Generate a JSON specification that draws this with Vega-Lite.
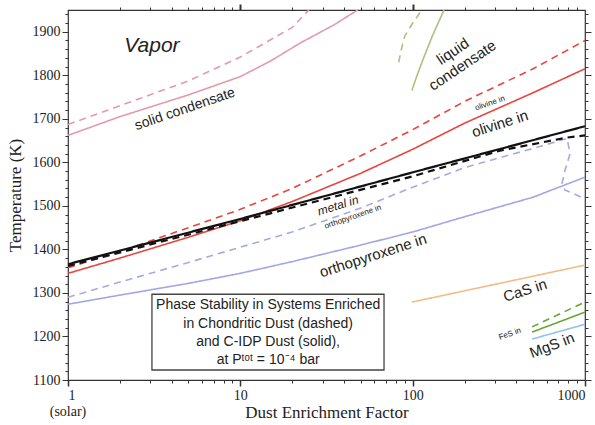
{
  "$schema": "https://vega.github.io/schema/vega-lite/v6.json",
  "width": 517,
  "height": 370,
  "autosize": {"type": "none"},
  "padding": {"left": 68, "top": 10, "right": 10, "bottom": 45},
  "config": {
    "view": {"stroke": "#333", "strokeWidth": 1.2},
    "axis": {"grid": false, "domain": false, "labelFont": "Liberation Serif", "labelFontSize": 14, "labelColor": "#222", "titleFont": "Liberation Serif", "titleFontWeight": "normal", "titleColor": "#222", "tickColor": "#333"},
    "text": {"font": "Liberation Sans", "color": "#222"}
  },
  "datasets": {
    "lines": [
      {"s": "pink_s", "d": "solid", "i": 1, "x": 1, "T": 1662},
      {"s": "pink_s", "d": "solid", "i": 2, "x": 2, "T": 1705},
      {"s": "pink_s", "d": "solid", "i": 3, "x": 5, "T": 1755},
      {"s": "pink_s", "d": "solid", "i": 4, "x": 10, "T": 1797},
      {"s": "pink_s", "d": "solid", "i": 5, "x": 15, "T": 1833},
      {"s": "pink_s", "d": "solid", "i": 6, "x": 22, "T": 1873},
      {"s": "pink_s", "d": "solid", "i": 7, "x": 35, "T": 1916},
      {"s": "pink_s", "d": "solid", "i": 8, "x": 48, "T": 1950},
      {"s": "pink_d", "d": "dashed", "i": 1, "x": 1, "T": 1687},
      {"s": "pink_d", "d": "dashed", "i": 2, "x": 2, "T": 1730},
      {"s": "pink_d", "d": "dashed", "i": 3, "x": 5, "T": 1787},
      {"s": "pink_d", "d": "dashed", "i": 4, "x": 10, "T": 1842},
      {"s": "pink_d", "d": "dashed", "i": 5, "x": 20, "T": 1910},
      {"s": "pink_d", "d": "dashed", "i": 6, "x": 25, "T": 1950},
      {"s": "green_s", "d": "solid", "i": 1, "x": 99, "T": 1765},
      {"s": "green_s", "d": "solid", "i": 2, "x": 105, "T": 1795},
      {"s": "green_s", "d": "solid", "i": 3, "x": 116, "T": 1841},
      {"s": "green_s", "d": "solid", "i": 4, "x": 130, "T": 1890},
      {"s": "green_s", "d": "solid", "i": 5, "x": 152, "T": 1950},
      {"s": "green_d", "d": "dashed", "i": 1, "x": 83, "T": 1830},
      {"s": "green_d", "d": "dashed", "i": 2, "x": 86, "T": 1860},
      {"s": "green_d", "d": "dashed", "i": 3, "x": 90, "T": 1890},
      {"s": "green_d", "d": "dashed", "i": 4, "x": 100, "T": 1920},
      {"s": "green_d", "d": "dashed", "i": 5, "x": 113, "T": 1950},
      {"s": "red_d", "d": "dashed", "i": 1, "x": 1, "T": 1358},
      {"s": "red_d", "d": "dashed", "i": 2, "x": 2, "T": 1395},
      {"s": "red_d", "d": "dashed", "i": 3, "x": 5, "T": 1450},
      {"s": "red_d", "d": "dashed", "i": 4, "x": 10, "T": 1492},
      {"s": "red_d", "d": "dashed", "i": 5, "x": 20, "T": 1540},
      {"s": "red_d", "d": "dashed", "i": 6, "x": 50, "T": 1615},
      {"s": "red_d", "d": "dashed", "i": 7, "x": 100, "T": 1675},
      {"s": "red_d", "d": "dashed", "i": 8, "x": 200, "T": 1740},
      {"s": "red_d", "d": "dashed", "i": 9, "x": 500, "T": 1815},
      {"s": "red_d", "d": "dashed", "i": 10, "x": 1000, "T": 1880},
      {"s": "red_s", "d": "solid", "i": 1, "x": 1, "T": 1345},
      {"s": "red_s", "d": "solid", "i": 2, "x": 2, "T": 1380},
      {"s": "red_s", "d": "solid", "i": 3, "x": 5, "T": 1428},
      {"s": "red_s", "d": "solid", "i": 4, "x": 10, "T": 1466},
      {"s": "red_s", "d": "solid", "i": 5, "x": 20, "T": 1510},
      {"s": "red_s", "d": "solid", "i": 6, "x": 50, "T": 1575},
      {"s": "red_s", "d": "solid", "i": 7, "x": 100, "T": 1630},
      {"s": "red_s", "d": "solid", "i": 8, "x": 200, "T": 1690},
      {"s": "red_s", "d": "solid", "i": 9, "x": 500, "T": 1760},
      {"s": "red_s", "d": "solid", "i": 10, "x": 1000, "T": 1815},
      {"s": "black_s", "d": "solid", "i": 1, "x": 1, "T": 1366},
      {"s": "black_s", "d": "solid", "i": 2, "x": 10, "T": 1470},
      {"s": "black_s", "d": "solid", "i": 3, "x": 100, "T": 1577},
      {"s": "black_s", "d": "solid", "i": 4, "x": 1000, "T": 1683},
      {"s": "black_d", "d": "dashed", "i": 1, "x": 1, "T": 1362},
      {"s": "black_d", "d": "dashed", "i": 2, "x": 10, "T": 1465},
      {"s": "black_d", "d": "dashed", "i": 3, "x": 100, "T": 1568},
      {"s": "black_d", "d": "dashed", "i": 4, "x": 321, "T": 1627},
      {"s": "black_d", "d": "dashed", "i": 5, "x": 787, "T": 1657},
      {"s": "black_d", "d": "dashed", "i": 6, "x": 1000, "T": 1662},
      {"s": "blue_d", "d": "dashed", "i": 1, "x": 1, "T": 1290},
      {"s": "blue_d", "d": "dashed", "i": 2, "x": 2, "T": 1325},
      {"s": "blue_d", "d": "dashed", "i": 3, "x": 5, "T": 1370},
      {"s": "blue_d", "d": "dashed", "i": 4, "x": 10, "T": 1405},
      {"s": "blue_d", "d": "dashed", "i": 5, "x": 20, "T": 1440},
      {"s": "blue_d", "d": "dashed", "i": 6, "x": 50, "T": 1495},
      {"s": "blue_d", "d": "dashed", "i": 7, "x": 100, "T": 1543},
      {"s": "blue_d", "d": "dashed", "i": 8, "x": 200, "T": 1588},
      {"s": "blue_d", "d": "dashed", "i": 9, "x": 500, "T": 1632},
      {"s": "blue_d", "d": "dashed", "i": 10, "x": 787, "T": 1655},
      {"s": "blue_d", "d": "dashed", "i": 11, "x": 819, "T": 1620},
      {"s": "blue_d", "d": "dashed", "i": 12, "x": 766, "T": 1582},
      {"s": "blue_d", "d": "dashed", "i": 13, "x": 736, "T": 1552},
      {"s": "blue_d", "d": "dashed", "i": 14, "x": 766, "T": 1536},
      {"s": "blue_d", "d": "dashed", "i": 15, "x": 841, "T": 1530},
      {"s": "blue_d", "d": "dashed", "i": 16, "x": 975, "T": 1518},
      {"s": "blue_s", "d": "solid", "i": 1, "x": 1, "T": 1274},
      {"s": "blue_s", "d": "solid", "i": 2, "x": 2, "T": 1295},
      {"s": "blue_s", "d": "solid", "i": 3, "x": 5, "T": 1322},
      {"s": "blue_s", "d": "solid", "i": 4, "x": 10, "T": 1345},
      {"s": "blue_s", "d": "solid", "i": 5, "x": 20, "T": 1372},
      {"s": "blue_s", "d": "solid", "i": 6, "x": 50, "T": 1410},
      {"s": "blue_s", "d": "solid", "i": 7, "x": 100, "T": 1440},
      {"s": "blue_s", "d": "solid", "i": 8, "x": 200, "T": 1475},
      {"s": "blue_s", "d": "solid", "i": 9, "x": 500, "T": 1520},
      {"s": "blue_s", "d": "solid", "i": 10, "x": 1000, "T": 1566},
      {"s": "cas_s", "d": "solid", "i": 1, "x": 99, "T": 1279},
      {"s": "cas_s", "d": "solid", "i": 2, "x": 1000, "T": 1364},
      {"s": "fes_s", "d": "solid", "i": 1, "x": 493, "T": 1210},
      {"s": "fes_s", "d": "solid", "i": 2, "x": 1000, "T": 1256},
      {"s": "fes_d", "d": "dashed", "i": 1, "x": 493, "T": 1222},
      {"s": "fes_d", "d": "dashed", "i": 2, "x": 1000, "T": 1279},
      {"s": "mgs_s", "d": "solid", "i": 1, "x": 493, "T": 1194},
      {"s": "mgs_s", "d": "solid", "i": 2, "x": 1000, "T": 1228}
    ],
    "box": [{"x": 3.07, "x2": 68.2, "T": 1297, "T2": 1123}],
    "boxtext": [
      {"x": 14.5, "T": 1272, "label": "Phase Stability in Systems Enriched"},
      {"x": 14.5, "T": 1229, "label": "in Chondritic Dust (dashed)"},
      {"x": 14.5, "T": 1188, "label": "and C-IDP Dust (solid),"},
      {"x": 14.5, "T": 1147, "label": "at Pᵗᵒᵗ = 10⁻⁴ bar"}
    ]
  },
  "layer": [
    {
      "data": {"name": "lines"},
      "transform": [{"filter": "datum.s != 'black_s' && datum.s != 'black_d'"}],
      "mark": {"type": "line", "strokeWidth": 1.6, "clip": true},
      "encoding": {
        "x": {"field": "x", "type": "quantitative", "scale": {"type": "log", "domain": [1, 1000]},
          "axis": {"orient": "bottom", "values": [1, 10, 100, 1000], "format": "d", "title": "Dust Enrichment Factor", "titleFontSize": 17, "tickSize": 6, "tickWidth": 1.5, "labelPadding": 2, "titlePadding": 2}},
        "y": {"field": "T", "type": "quantitative", "scale": {"domain": [1100, 1950], "zero": false, "nice": false},
          "axis": {"orient": "left", "values": [1100, 1200, 1300, 1400, 1500, 1600, 1700, 1800, 1900], "format": "d", "title": "Temperature (K)", "titleFontSize": 17, "tickSize": 6, "labelPadding": 2, "titlePadding": 8}},
        "color": {"field": "s", "type": "nominal", "legend": null,
          "scale": {"domain": ["pink_s", "pink_d", "green_s", "green_d", "red_d", "red_s", "blue_d", "blue_s", "cas_s", "fes_s", "fes_d", "mgs_s"],
            "range": ["#e49aae", "#e49aae", "#a9c47c", "#a9c47c", "#e8453e", "#e8453e", "#a7aadc", "#a2a6e2", "#f2bb88", "#6aa536", "#6aa536", "#8cc4ee"]}},
        "strokeDash": {"field": "d", "type": "nominal", "legend": null, "scale": {"domain": ["solid", "dashed"], "range": [[1, 0], [7, 5]]}},
        "order": {"field": "i", "type": "quantitative"}
      }
    },
    {
      "data": {"name": "lines"},
      "transform": [{"filter": "datum.s == 'black_s' || datum.s == 'black_d'"}],
      "mark": {"type": "line", "strokeWidth": 2.2, "color": "#111", "clip": true},
      "encoding": {
        "x": {"field": "x", "type": "quantitative", "scale": {"type": "log", "domain": [1, 1000]}, "axis": null},
        "y": {"field": "T", "type": "quantitative", "scale": {"domain": [1100, 1950], "zero": false, "nice": false}, "axis": null},
        "detail": {"field": "s", "type": "nominal"},
        "strokeDash": {"field": "d", "type": "nominal", "legend": null, "scale": {"domain": ["solid", "dashed"], "range": [[1, 0], [7, 4]]}},
        "order": {"field": "i", "type": "quantitative"}
      }
    },
    {
      "data": {"name": "box"},
      "mark": {"type": "rect", "fill": "white", "stroke": "#444", "strokeWidth": 1.3},
      "encoding": {
        "x": {"field": "x", "type": "quantitative", "scale": {"type": "log", "domain": [1, 1000]},
          "axis": {"orient": "bottom", "values": [2, 3, 4, 5, 6, 7, 8, 9, 20, 30, 40, 50, 60, 70, 80, 90, 200, 300, 400, 500, 600, 700, 800, 900], "labels": false, "title": null, "tickSize": 3}},
        "x2": {"field": "x2"},
        "y": {"field": "T", "type": "quantitative", "scale": {"domain": [1100, 1950], "zero": false, "nice": false},
          "axis": {"orient": "left", "values": [1120, 1140, 1160, 1180, 1220, 1240, 1260, 1280, 1320, 1340, 1360, 1380, 1420, 1440, 1460, 1480, 1520, 1540, 1560, 1580, 1620, 1640, 1660, 1680, 1720, 1740, 1760, 1780, 1820, 1840, 1860, 1880, 1920, 1940], "labels": false, "title": null, "tickSize": 3}},
        "y2": {"field": "T2"}
      }
    },
    {
      "data": {"name": "boxtext"},
      "mark": {"type": "text", "fontSize": 14, "font": "Liberation Sans"},
      "encoding": {
        "x": {"field": "x", "type": "quantitative", "scale": {"type": "log", "domain": [1, 1000]}, "axis": null},
        "y": {"field": "T", "type": "quantitative", "scale": {"domain": [1100, 1950], "zero": false, "nice": false}, "axis": null},
        "text": {"field": "label"}
      }
    },
    {
      "data": {"values": [{"x": 3.07, "T": 1868, "label": "Vapor"}]},
      "mark": {"type": "text", "fontSize": 21, "fontStyle": "italic"},
      "encoding": {
        "x": {"field": "x", "type": "quantitative", "scale": {"type": "log", "domain": [1, 1000]},
          "axis": {"orient": "top", "values": [10, 100], "labels": false, "title": null, "tickSize": 6, "tickWidth": 2}},
        "y": {"field": "T", "type": "quantitative", "scale": {"domain": [1100, 1950], "zero": false, "nice": false},
          "axis": {"orient": "right", "values": [1100, 1200, 1300, 1400, 1500, 1600, 1700, 1800, 1900], "labels": false, "title": null, "tickSize": 6}},
        "text": {"field": "label"}
      }
    },
    {
      "data": {"values": [{"x": 4.77, "T": 1722, "label": "solid condensate"}]},
      "mark": {"type": "text", "fontSize": 14, "angle": 341},
      "encoding": {
        "x": {"field": "x", "type": "quantitative", "scale": {"type": "log", "domain": [1, 1000]},
          "axis": {"orient": "top", "values": [2, 3, 4, 5, 6, 7, 8, 9, 20, 30, 40, 50, 60, 70, 80, 90, 200, 300, 400, 500, 600, 700, 800, 900], "labels": false, "title": null, "tickSize": 3}},
        "y": {"field": "T", "type": "quantitative", "scale": {"domain": [1100, 1950], "zero": false, "nice": false},
          "axis": {"orient": "right", "values": [1120, 1140, 1160, 1180, 1220, 1240, 1260, 1280, 1320, 1340, 1360, 1380, 1420, 1440, 1460, 1480, 1520, 1540, 1560, 1580, 1620, 1640, 1660, 1680, 1720, 1740, 1760, 1780, 1820, 1840, 1860, 1880, 1920, 1940], "labels": false, "title": null, "tickSize": 3}},
        "text": {"field": "label"}
      }
    },
    {
      "data": {"values": [{"x": 171, "T": 1855, "label": "liquid\ncondensate"}]},
      "mark": {"type": "text", "fontSize": 15, "angle": 326, "lineBreak": "\n", "lineHeight": 17},
      "encoding": {
        "x": {"field": "x", "type": "quantitative", "scale": {"type": "log", "domain": [1, 1000]}, "axis": null},
        "y": {"field": "T", "type": "quantitative", "scale": {"domain": [1100, 1950], "zero": false, "nice": false}, "axis": null},
        "text": {"field": "label"}
      }
    },
    {
      "data": {"values": [{"x": 321, "T": 1689, "label": "olivine in"}, {"x": 58.9, "T": 1386, "label": "orthopyroxene in"}, {"x": 449, "T": 1306, "label": "CaS in"}]},
      "mark": {"type": "text", "fontSize": 15, "angle": 342},
      "encoding": {
        "x": {"field": "x", "type": "quantitative", "scale": {"type": "log", "domain": [1, 1000]}, "axis": null},
        "y": {"field": "T", "type": "quantitative", "scale": {"domain": [1100, 1950], "zero": false, "nice": false}, "axis": null},
        "text": {"field": "label"}
      }
    },
    {
      "data": {"values": [{"x": 644, "T": 1180, "label": "MgS in"}]},
      "mark": {"type": "text", "fontSize": 15, "angle": 339},
      "encoding": {
        "x": {"field": "x", "type": "quantitative", "scale": {"type": "log", "domain": [1, 1000]}, "axis": null},
        "y": {"field": "T", "type": "quantitative", "scale": {"domain": [1100, 1950], "zero": false, "nice": false}, "axis": null},
        "text": {"field": "label"}
      }
    },
    {
      "data": {"values": [{"x": 36.9, "T": 1501, "label": "metal in"}]},
      "mark": {"type": "text", "fontSize": 12, "angle": 343, "fontStyle": "italic"},
      "encoding": {
        "x": {"field": "x", "type": "quantitative", "scale": {"type": "log", "domain": [1, 1000]}, "axis": null},
        "y": {"field": "T", "type": "quantitative", "scale": {"domain": [1100, 1950], "zero": false, "nice": false}, "axis": null},
        "text": {"field": "label"}
      }
    },
    {
      "data": {"values": [{"x": 281, "T": 1735, "label": "olivine in"}, {"x": 45, "T": 1474, "label": "orthopyroxene in"}, {"x": 367, "T": 1205, "label": "FeS in"}]},
      "mark": {"type": "text", "fontSize": 8, "angle": 341},
      "encoding": {
        "x": {"field": "x", "type": "quantitative", "scale": {"type": "log", "domain": [1, 1000]}, "axis": null},
        "y": {"field": "T", "type": "quantitative", "scale": {"domain": [1100, 1950], "zero": false, "nice": false}, "axis": null},
        "text": {"field": "label"}
      }
    },
    {
      "data": {"values": [{"x": 1, "T": 1100, "label": "(solar)"}]},
      "mark": {"type": "text", "fontSize": 14, "font": "Liberation Serif", "dy": 32},
      "encoding": {
        "x": {"field": "x", "type": "quantitative", "scale": {"type": "log", "domain": [1, 1000]}, "axis": null},
        "y": {"field": "T", "type": "quantitative", "scale": {"domain": [1100, 1950], "zero": false, "nice": false}, "axis": null},
        "text": {"field": "label"}
      }
    }
  ],
  "resolve": {"axis": {"x": "independent", "y": "independent"}}
}
